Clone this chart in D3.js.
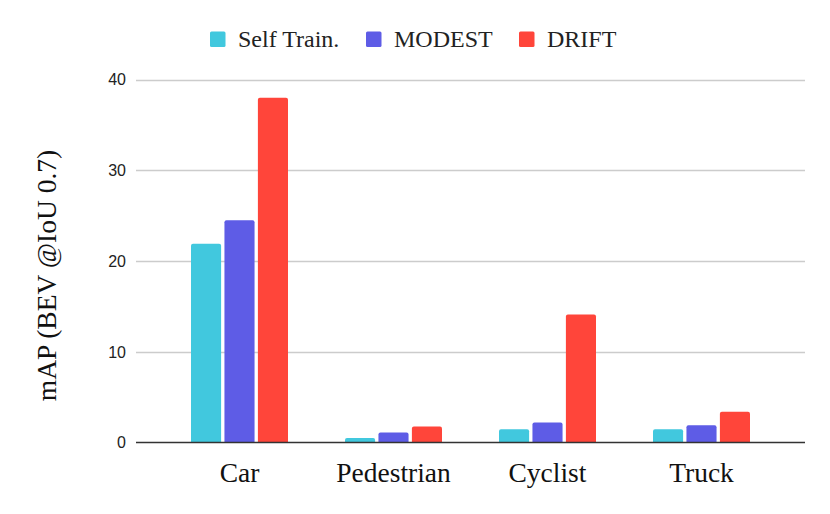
<!DOCTYPE html>
<html>
<head>
<meta charset="utf-8">
<script src="https://cdn.jsdelivr.net/npm/d3@7"></script>
<style>
  html, body { margin: 0; padding: 0; background: #fff; }
  svg { display: block; }
</style>
</head>
<body>
<div id="chart"></div>
<script>
const categories = ["Car", "Pedestrian", "Cyclist", "Truck"];
const seriesNames = ["Self Train.", "MODEST", "DRIFT"];
const selfTrain = [21.9, 0.5, 1.45, 1.45];
const modest = [24.5, 1.1, 2.2, 1.9];
const drift = [38.0, 1.75, 14.1, 3.4];
const yTicks = [0, 10, 20, 30, 40];
const colors = ["#41c8de", "#5e5ce6", "#ff453a"];

const width = 830, height = 514;
const seriesValues = [selfTrain, modest, drift];

const svg = d3.select("#chart")
    .append("svg")
    .attr("width", width)
    .attr("height", height);

const y = d3.scaleLinear().domain([0, 40]).range([442.5, 79.5]);

const x0 = d3.scaleBand().domain(categories).range([162.5, 778.5]);
const x1 = d3.scaleBand().domain(seriesNames).range([28.5, 125.5]).paddingInner(0.1);

// gridlines
svg.append("g")
    .selectAll("line")
    .data(yTicks.filter(t => t > 0))
    .enter().append("line")
    .attr("x1", 136).attr("x2", 805)
    .attr("y1", d => Math.round(y(d)) + 0.5)
    .attr("y2", d => Math.round(y(d)) + 0.5)
    .attr("stroke", "#cccccc")
    .attr("stroke-width", 1.5);

// tick labels
svg.append("g")
    .selectAll("text")
    .data(yTicks)
    .enter().append("text")
    .attr("x", 126)
    .attr("y", d => y(d))
    .attr("dy", "0.36em")
    .attr("text-anchor", "end")
    .attr("font-family", "Liberation Sans, Arial, sans-serif")
    .attr("font-size", 16)
    .attr("fill", "#222")
    .text(d => d);

// bars with rounded tops
function barPath(x, yTop, w, yBase, r) {
    r = Math.min(r, (yBase - yTop) / 2, w / 2);
    return `M${x},${yBase}V${yTop + r}Q${x},${yTop} ${x + r},${yTop}` +
        `H${x + w - r}Q${x + w},${yTop} ${x + w},${yTop + r}V${yBase}Z`;
}

const groups = svg.append("g")
    .selectAll("g")
    .data(categories)
    .enter().append("g")
    .attr("transform", d => `translate(${x0(d)},0)`);

groups.selectAll("path")
    .data((d, i) => seriesNames.map((s, j) => ({ s, j, v: seriesValues[j][i] })))
    .enter().append("path")
    .attr("d", d => barPath(x1(d.s), y(d.v), x1.bandwidth(), y(0), 2))
    .attr("fill", d => colors[d.j]);

// baseline
svg.append("line")
    .attr("x1", 136).attr("x2", 805)
    .attr("y1", y(0)).attr("y2", y(0))
    .attr("stroke", "#333")
    .attr("stroke-width", 1.5);

// category labels
svg.append("g")
    .selectAll("text")
    .data(categories)
    .enter().append("text")
    .attr("x", d => x0(d) + x0.bandwidth() / 2)
    .attr("y", 481.5)
    .attr("text-anchor", "middle")
    .attr("font-family", "Liberation Serif, Times New Roman, serif")
    .attr("font-size", 27.5)
    .attr("fill", "#111")
    .text(d => d);

// y axis title
svg.append("text")
    .attr("transform", "translate(56,275.5) rotate(-90)")
    .attr("text-anchor", "middle")
    .attr("font-family", "Liberation Serif, Times New Roman, serif")
    .attr("font-size", 27.5)
    .attr("fill", "#111")
    .text("mAP (BEV @IoU 0.7)");

// legend
const legendX = [210, 366, 519];
const legend = svg.append("g")
    .selectAll("g")
    .data(seriesNames)
    .enter().append("g")
    .attr("transform", (d, i) => `translate(${legendX[i]},31.5)`);

legend.append("rect")
    .attr("width", 15.5).attr("height", 15.5)
    .attr("rx", 1.5)
    .attr("fill", (d, i) => colors[i]);

legend.append("text")
    .attr("x", 28)
    .attr("y", 15.6)
    .attr("font-family", "Liberation Serif, Times New Roman, serif")
    .attr("font-size", 24)
    .attr("fill", "#222")
    .text(d => d);
</script>
</body>
</html>
